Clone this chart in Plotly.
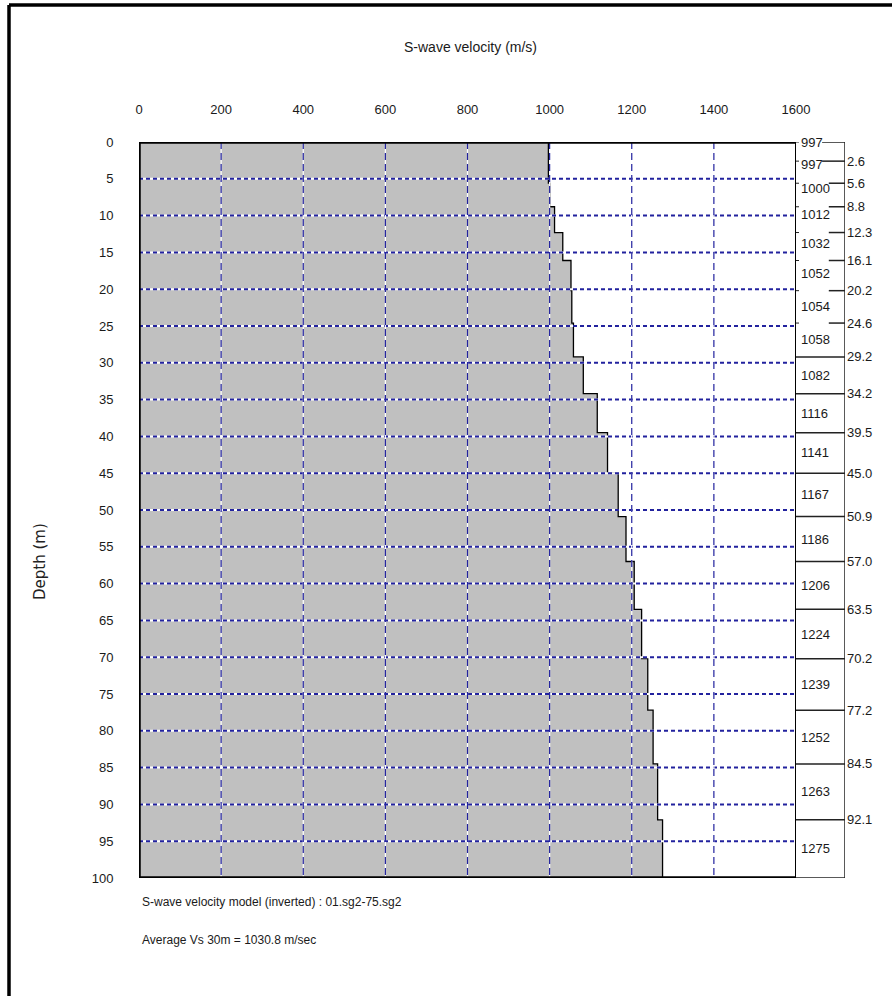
import plotly.graph_objects as go

# ---------------- data ----------------
velocities = [997, 997, 1000, 1012, 1032, 1052, 1054, 1058, 1082, 1116,
              1141, 1167, 1186, 1206, 1224, 1239, 1252, 1263, 1275]
boundaries = [2.6, 5.6, 8.8, 12.3, 16.1, 20.2, 24.6, 29.2, 34.2, 39.5,
              45.0, 50.9, 57.0, 63.5, 70.2, 77.2, 84.5, 92.1]
max_depth = 100
x_ticks = [0, 200, 400, 600, 800, 1000, 1200, 1400, 1600]
y_ticks = list(range(0, 105, 5))
title_text = "S-wave velocity (m/s)"
ylabel_text = "Depth (m)"
note1 = "S-wave velocity model (inverted) : 01.sg2-75.sg2"
note2 = "Average Vs 30m = 1030.8 m/sec"

# ---------------- layout geometry (pixels) ----------------
W, H = 892, 996
L, R, T, B = 139, 845, 142, 878
PLOT_R = 796
pw, ph = R - L, B - T


def px_x(x):
    return (x - L) / pw


def px_y(y):
    return 1 - (y - T) / ph


NARROW = "Liberation Sans Narrow, Arial Narrow, Liberation Sans, Arial, sans-serif"
BLUE = "#22229e"
TXT = "#1a1a1a"

edges = [0] + boundaries + [max_depth]

# step profile
xs, ys = [], []
for i, v in enumerate(velocities):
    xs += [v, v]
    ys += [edges[i], edges[i + 1]]

fig = go.Figure()
fig.add_trace(go.Scatter(
    x=xs, y=ys, mode="lines", fill="tozerox",
    fillcolor="#c0c0c0", line=dict(color="black", width=1.3),
    hoverinfo="skip", showlegend=False, xaxis="x", yaxis="y"))
# invisible trace to make table axis exist
fig.add_trace(go.Scatter(x=[0, 1], y=[0, max_depth], mode="markers",
                         marker=dict(opacity=0), hoverinfo="skip",
                         showlegend=False, xaxis="x2", yaxis="y"))

shapes = []
xmin, xmax = x_ticks[0], x_ticks[-1]
# horizontal dotted grid
for d in y_ticks[1:-1]:
    shapes.append(dict(type="line", xref="x", yref="y", x0=xmin, x1=xmax, y0=d, y1=d,
                       line=dict(color="white", width=2), layer="above"))
    shapes.append(dict(type="line", xref="x", yref="y", x0=xmin, x1=xmax, y0=d, y1=d,
                       line=dict(color=BLUE, width=2, dash="4px,3px"), layer="above"))
# vertical dashed grid
for v in x_ticks[1:-1]:
    shapes.append(dict(type="line", xref="x", yref="y", x0=v, x1=v, y0=0, y1=max_depth,
                       line=dict(color="white", width=1.2), layer="above"))
    shapes.append(dict(type="line", xref="x", yref="y", x0=v, x1=v, y0=0, y1=max_depth,
                       line=dict(color=BLUE, width=1.2, dash="7px,4px"), layer="above"))

# plot border
shapes += [
    dict(type="line", xref="x", yref="y", x0=xmin, x1=xmax, y0=0, y1=0,
         line=dict(color="black", width=3.5), layer="above"),
    dict(type="line", xref="x", yref="y", x0=xmin, x1=xmax, y0=max_depth, y1=max_depth,
         line=dict(color="black", width=3.5), layer="above"),
    dict(type="line", xref="x", yref="y", x0=xmin, x1=xmin, y0=0, y1=max_depth,
         line=dict(color="black", width=3.5), layer="above"),
    dict(type="line", xref="x", yref="y", x0=xmax, x1=xmax, y0=0, y1=max_depth,
         line=dict(color="black", width=2), layer="above"),
]

# table at right
TW = R - PLOT_R  # table width in px
thick = [edges[i + 1] - edges[i] for i in range(len(velocities))]
annotations = []
for i, v in enumerate(velocities):
    top = edges[i]
    if thick[i] < 5:
        x0 = (4 + len(str(v)) * 6.7 + 2) / TW
        shapes.append(dict(type="line", xref="x2", yref="y", x0=x0, x1=1, y0=top, y1=top,
                           line=dict(color="#222", width=1.5), layer="above"))
        shapes.append(dict(type="line", xref="x2", yref="y", x0=0, x1=3 / TW, y0=top, y1=top,
                           line=dict(color="#222", width=1), layer="above"))
    else:
        shapes.append(dict(type="line", xref="x2", yref="y", x0=0, x1=1, y0=top, y1=top,
                           line=dict(color="#222", width=1.5), layer="above"))
    mid = (edges[i] + edges[i + 1]) / 2
    shift = max(0.0, (4.5 - thick[i]) * 5)
    annotations.append(dict(xref="x2", yref="y", x=0, y=mid, text=str(v),
                            xanchor="left", yanchor="middle", xshift=3, yshift=shift,
                            showarrow=False, font=dict(family=NARROW, size=13, color=TXT)))
for d in boundaries:
    annotations.append(dict(xref="x2", yref="y", x=1, y=d, text=f"{d:.1f}",
                            xanchor="left", yanchor="middle", xshift=0,
                            showarrow=False, font=dict(family=NARROW, size=13, color=TXT)))
shapes.append(dict(type="line", xref="x2", yref="y", x0=0, x1=1, y0=max_depth, y1=max_depth,
                   line=dict(color="#222", width=1.5), layer="above"))
shapes.append(dict(type="line", xref="x2", yref="y", x0=1, x1=1, y0=0, y1=max_depth,
                   line=dict(color="#222", width=1.5), layer="above"))

# outer frame of the picture
fx, fy = px_x(9), px_y(5)
shapes.append(dict(type="line", xref="paper", yref="paper", x0=fx, x1=px_x(W + 5), y0=fy, y1=fy,
                   line=dict(color="black", width=3.5)))
shapes.append(dict(type="line", xref="paper", yref="paper", x0=fx, x1=fx, y0=fy, y1=px_y(H + 5),
                   line=dict(color="black", width=3.5)))

# texts
annotations += [
    dict(xref="paper", yref="paper", x=px_x(470), y=px_y(47), text=title_text,
         showarrow=False, xanchor="center", yanchor="middle",
         font=dict(family=NARROW, size=14, color=TXT)),
    dict(xref="paper", yref="paper", x=px_x(40), y=px_y(562), text=ylabel_text,
         showarrow=False, textangle=-90, xanchor="center", yanchor="middle",
         font=dict(family="DejaVu Sans, sans-serif", size=15, color="#222")),
    dict(xref="paper", yref="paper", x=px_x(140), y=px_y(902), text=note1,
         showarrow=False, xanchor="left", yanchor="middle",
         font=dict(family=NARROW, size=12, color=TXT)),
    dict(xref="paper", yref="paper", x=px_x(140), y=px_y(940), text=note2,
         showarrow=False, xanchor="left", yanchor="middle",
         font=dict(family=NARROW, size=12, color=TXT)),
]

split = (PLOT_R - L) / pw
fig.update_layout(
    width=W, height=H,
    margin=dict(l=L, r=W - R, t=T, b=H - B, pad=0),
    paper_bgcolor="white", plot_bgcolor="white",
    showlegend=False,
    xaxis=dict(domain=[0, split], range=[xmin, xmax], side="top",
               tickvals=x_ticks, ticktext=[str(v) for v in x_ticks],
               showgrid=False, zeroline=False, showline=False,
               ticks="outside", ticklen=22, tickcolor="rgba(0,0,0,0)",
               tickfont=dict(family=NARROW, size=13, color=TXT), anchor="y"),
    xaxis2=dict(domain=[split, 1], range=[0, 1], visible=False, anchor="y"),
    yaxis=dict(range=[max_depth, 0], tickvals=y_ticks, ticktext=[str(d) for d in y_ticks],
               showgrid=False, zeroline=False, showline=False,
               ticks="outside", ticklen=22, tickcolor="rgba(0,0,0,0)",
               tickfont=dict(family=NARROW, size=13, color=TXT), anchor="x"),
    shapes=shapes, annotations=annotations,
)

fig.write_html("out.html")
